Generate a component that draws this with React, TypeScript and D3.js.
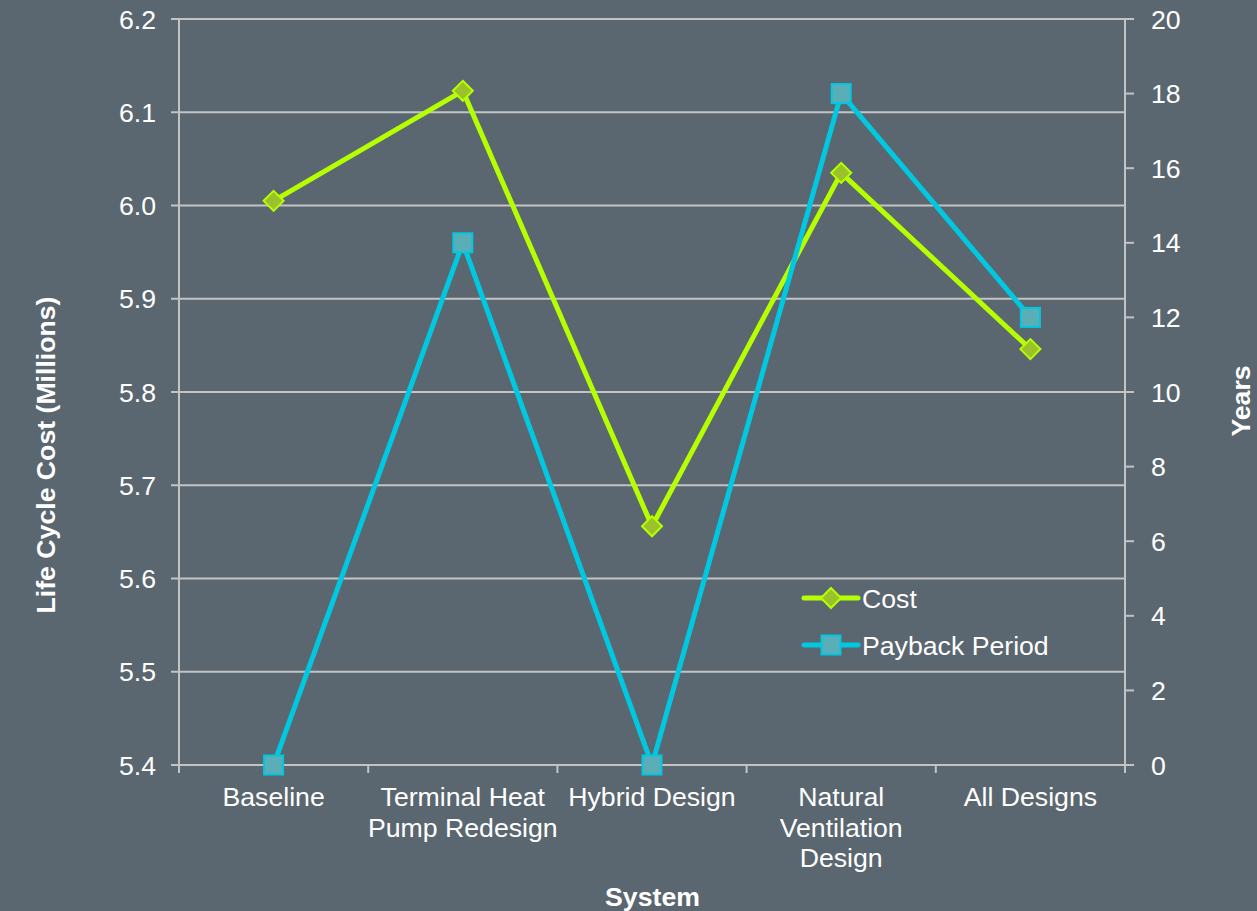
import React from "react";
import * as d3 from "d3";

const categories: string[][] = [
  ["Baseline"],
  ["Terminal Heat", "Pump Redesign"],
  ["Hybrid Design"],
  ["Natural", "Ventilation", "Design"],
  ["All Designs"],
];
const costValues = [6.005, 6.123, 5.656, 6.035, 5.846];
const paybackValues = [0, 14, 0, 18, 12];
const leftTicks = [5.4, 5.5, 5.6, 5.7, 5.8, 5.9, 6.0, 6.1, 6.2];
const rightTicks = [0, 2, 4, 6, 8, 10, 12, 14, 16, 18, 20];

const W = 1257;
const H = 911;
const BG = "#5b6770";
const GRID = "#c3c3c3";
const COST = "#b5ff00";
const COST_FILL = "#9bc22a";
const PAY = "#00c8e0";
const PAY_FILL = "#5aaeb8";
const FONT = "'Liberation Sans', Arial, sans-serif";
const FS = 26.67;

export default function App() {
  const left = 179, right = 1125, top = 19, bottom = 765;
  const x = d3.scaleBand<number>().domain(d3.range(categories.length)).range([left, right]);
  const yL = d3.scaleLinear().domain([5.4, 6.2]).range([bottom, top]);
  const yR = d3.scaleLinear().domain([0, 20]).range([bottom, top]);
  const cx = (i: number) => (x(i) as number) + x.bandwidth() / 2;

  const costLine = d3.line<number>().x((_, i) => cx(i)).y((d) => yL(d))(costValues) || "";
  const payLine = d3.line<number>().x((_, i) => cx(i)).y((d) => yR(d))(paybackValues) || "";

  const diamond = (px: number, py: number, r: number) =>
    `M${px},${py - r}L${px + r},${py}L${px},${py + r}L${px - r},${py}Z`;

  return (
    <svg width={W} height={H} style={{ position: "absolute", left: 0, top: 0, display: "block" }}>
      <rect x={0} y={0} width={W} height={H} fill={BG} />
      {leftTicks.map((t) => (
        <line key={"g" + t} x1={left - 8} x2={right} y1={yL(t)} y2={yL(t)} stroke={GRID} strokeWidth={2} />
      ))}
      <line x1={left} x2={left} y1={top} y2={bottom} stroke={GRID} strokeWidth={2} />
      <line x1={right} x2={right} y1={top} y2={bottom} stroke={GRID} strokeWidth={2} />
      {rightTicks.map((t) => (
        <line key={"rt" + t} x1={right} x2={right + 9} y1={yR(t)} y2={yR(t)} stroke={GRID} strokeWidth={2} />
      ))}
      {d3.range(categories.length + 1).map((i) => {
        const px = left + i * x.bandwidth();
        return <line key={"xt" + i} x1={px} x2={px} y1={bottom} y2={bottom + 8} stroke={GRID} strokeWidth={2} />;
      })}
      {leftTicks.map((t) => (
        <text key={"lt" + t} x={156} y={yL(t) + 9.5} textAnchor="end" fill="#fff" fontFamily={FONT} fontSize={FS}>
          {t.toFixed(1)}
        </text>
      ))}
      {rightTicks.map((t) => (
        <text key={"rl" + t} x={1151} y={yR(t) + 9.5} textAnchor="start" fill="#fff" fontFamily={FONT} fontSize={FS}>
          {t}
        </text>
      ))}
      {categories.map((lines, i) => (
        <text key={"c" + i} x={cx(i)} y={806} textAnchor="middle" fill="#fff" fontFamily={FONT} fontSize={FS}>
          {lines.map((l, j) => (
            <tspan key={j} x={cx(i)} dy={j === 0 ? 0 : 30.5}>
              {l}
            </tspan>
          ))}
        </text>
      ))}
      <text x={652.5} y={906} textAnchor="middle" fill="#fff" fontFamily={FONT} fontSize={FS} fontWeight="bold">
        System
      </text>
      <text
        transform={`translate(55,455) rotate(-90)`}
        textAnchor="middle"
        fill="#fff"
        fontFamily={FONT}
        fontSize={FS}
        fontWeight="bold"
      >
        Life Cycle Cost (Millions)
      </text>
      <text
        transform={`translate(1250,401) rotate(-90)`}
        textAnchor="middle"
        fill="#fff"
        fontFamily={FONT}
        fontSize={FS}
        fontWeight="bold"
      >
        Years
      </text>
      <path d={costLine} fill="none" stroke={COST} strokeWidth={5} strokeLinejoin="round" />
      <path d={payLine} fill="none" stroke={PAY} strokeWidth={5} strokeLinejoin="round" />
      {costValues.map((v, i) => (
        <path key={"cm" + i} d={diamond(cx(i), yL(v), 10)} fill={COST_FILL} stroke={COST} strokeWidth={2} />
      ))}
      {paybackValues.map((v, i) => (
        <rect key={"pm" + i} x={cx(i) - 9.5} y={yR(v) - 9.5} width={19} height={19} fill={PAY_FILL} stroke={PAY} strokeWidth={2} />
      ))}
      <line x1={804} x2={858} y1={598} y2={598} stroke={COST} strokeWidth={5} strokeLinecap="round" />
      <path d={diamond(831, 598, 10)} fill={COST_FILL} stroke={COST} strokeWidth={2} />
      <text x={862} y={607.5} fill="#fff" fontFamily={FONT} fontSize={FS}>Cost</text>
      <line x1={804} x2={858} y1={645} y2={645} stroke={PAY} strokeWidth={5} strokeLinecap="round" />
      <rect x={831 - 9.5} y={645 - 9.5} width={19} height={19} fill={PAY_FILL} stroke={PAY} strokeWidth={2} />
      <text x={862} y={654.5} fill="#fff" fontFamily={FONT} fontSize={FS}>Payback Period</text>
    </svg>
  );
}
